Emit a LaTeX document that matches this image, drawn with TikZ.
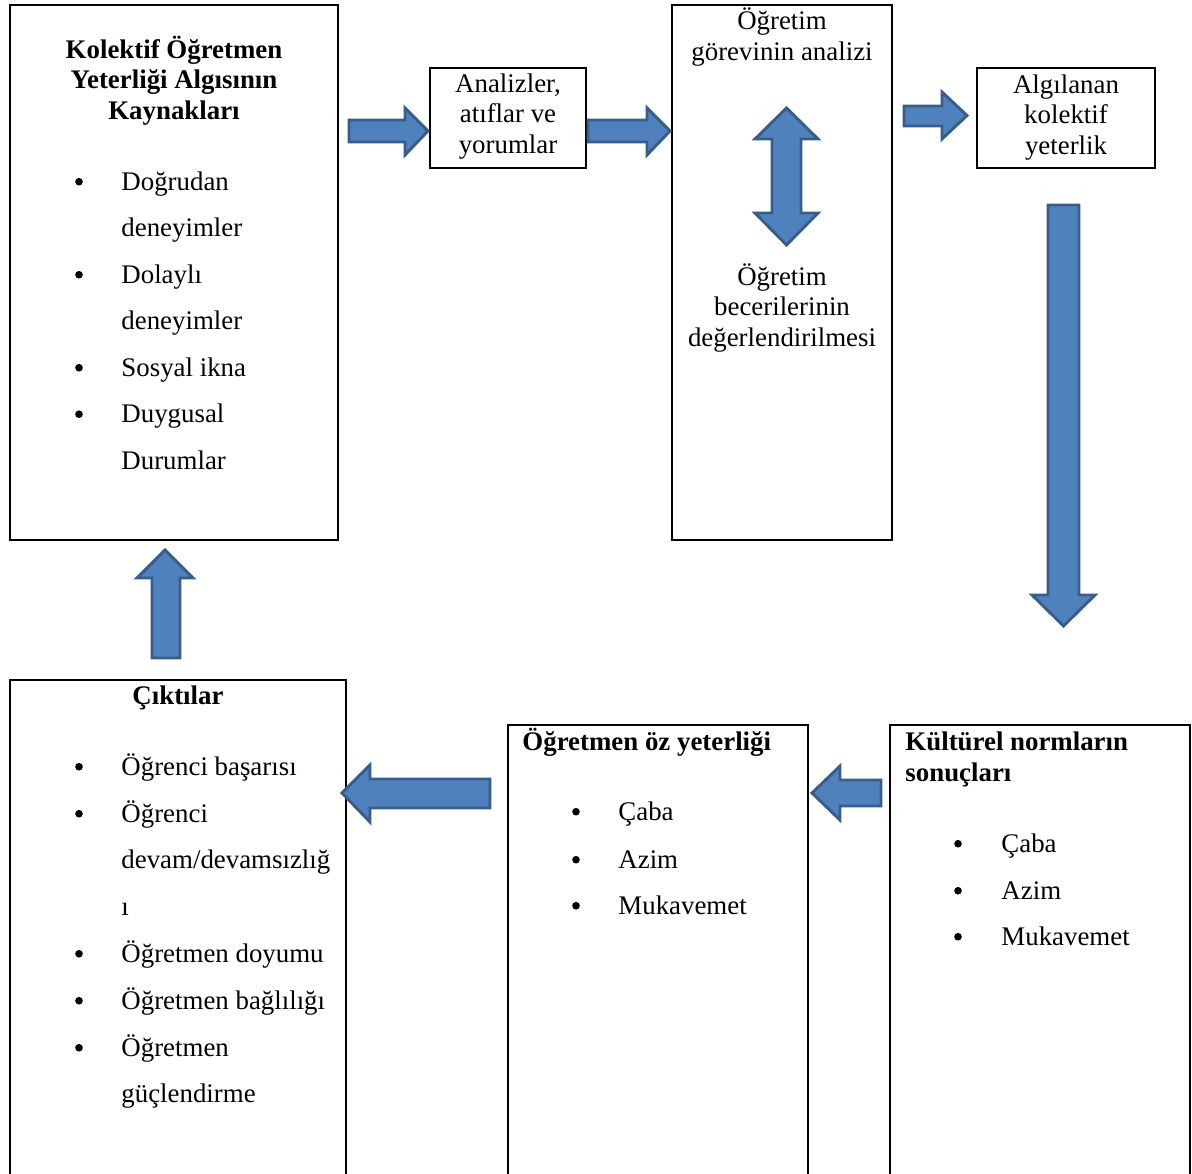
\documentclass[tikz,border=0pt]{standalone}
\usepackage{fontspec}
\setmainfont{Liberation Serif}
\usepackage{xcolor}

\definecolor{arrfill}{HTML}{4F81BD}
\definecolor{arrline}{HTML}{385D8A}

\begin{document}
\begin{tikzpicture}[x=0.0157cm,y=-0.0157cm,
box/.style={draw=black,line width=0.7pt,inner sep=0pt},
blockarr/.style={fill=arrfill,draw=arrline,line width=1.3pt,line join=miter},
txt/.style={inner sep=0pt,anchor=base,font=\fontsize{12}{14}\selectfont},
ttl/.style={inner sep=0pt,anchor=base,font=\fontsize{12}{14}\selectfont\bfseries},
itm/.style={inner sep=0pt,anchor=base west,font=\fontsize{12}{14}\selectfont},
dot/.style={circle,fill=black,inner sep=0pt,minimum size=0.12cm,yshift=0.13cm}
]
\useasboundingbox (0,0) rectangle (1192,1173);
\clip (0,0) rectangle (1192,1173);

% boxes
\node[box,minimum width=5.15cm,minimum height=8.40cm](src) at (174,272.5) {};
\node[box,minimum width=2.45cm,minimum height=1.57cm](ana) at (508,118) {};
\node[box,minimum width=3.454cm,minimum height=8.40cm](task) at (782,272.5) {};
\node[box,minimum width=2.795cm,minimum height=1.57cm](perc) at (1066,118) {};
\node[box,minimum width=5.275cm,minimum height=8.164cm](outc) at (178,940) {};
\node[box,minimum width=4.71cm,minimum height=7.4575cm](self) at (658,962.5) {};
\node[box,minimum width=4.71cm,minimum height=7.4575cm](norm) at (1040,962.5) {};

% sources
\node[ttl](srct1) at (174,58) {Kolektif Öğretmen};
\node[ttl](srct2) at (174,88.5) {Yeterliği Algısının};
\node[ttl](srct3) at (174,119) {Kaynakları};
\foreach \y/\t [count=\i] in {190/Doğrudan,236.5/deneyimler,283/Dolaylı,329.5/deneyimler,376/Sosyal ikna,422.5/Duygusal,469/Durumlar}
  \node[itm](srcl\i) at (121,\y) {\t};
\foreach \y [count=\i] in {190,283,376,422.5}
  \node[dot](srcb\i) at (79,\y) {};

% analysis
\node[txt](ana1) at (508,92) {Analizler,};
\node[txt](ana2) at (508,122.5) {atıflar ve};
\node[txt](ana3) at (508,153) {yorumlar};

\node[txt](task1) at (782,29) {Öğretim};
\node[txt](task2) at (782,60) {görevinin analizi};
\node[txt](task3) at (782,285) {Öğretim};
\node[txt](task4) at (782,315.5) {becerilerinin};
\node[txt](task5) at (782,346) {değerlendirilmesi};

\node[txt](perc1) at (1066,93) {Algılanan};
\node[txt](perc2) at (1066,123.5) {kolektif};
\node[txt](perc3) at (1066,154) {yeterlik};

% outcomes
\node[ttl](outct) at (178,704) {Çıktılar};
\foreach \y/\t [count=\i] in {775/Öğrenci başarısı,822/Öğrenci,868/{devam/devamsızlığ},915/ı,962/Öğretmen doyumu,1009/Öğretmen bağlılığı,1056/Öğretmen,1102/güçlendirme}
  \node[itm](outcl\i) at (121,\y) {\t};
\foreach \y [count=\i] in {775,822,962,1009,1056}
  \node[dot](outcb\i) at (79,\y) {};

\node[ttl,anchor=base west](selft) at (522,750) {Öğretmen öz yeterliği};
\foreach \y/\t [count=\i] in {820/Çaba,868/Azim,914/Mukavemet}{
  \node[itm](selfl\i) at (618,\y) {\t};
  \node[dot](selfb\i) at (576,\y) {};
}

\node[ttl,anchor=base west](normt1) at (905,750) {Kültürel normların};
\node[ttl,anchor=base west](normt2) at (905,781) {sonuçları};
\foreach \y/\t [count=\i] in {852/Çaba,899/Azim,945/Mukavemet}{
  \node[itm](norml\i) at (1001,\y) {\t};
  \node[dot](normb\i) at (958,\y) {};
}

% block arrows
\draw[blockarr] (349,120) -- (405,120) -- (405,108) -- (428,131) -- (405,155) -- (405,142) -- (349,142) -- cycle;
\draw[blockarr] (588,120) -- (647,120) -- (647,108) -- (670,131) -- (647,155) -- (647,142) -- (588,142) -- cycle;
\draw[blockarr] (904,106) -- (942,106) -- (942,92) -- (967,115.5) -- (942,139) -- (942,126) -- (904,126) -- cycle;
\draw[blockarr] (786.5,108) -- (818,139) -- (801,139) -- (801,213) -- (818,213) -- (786.5,245) -- (755,213) -- (772,213) -- (772,139) -- (755,139) -- cycle;
\draw[blockarr] (1048,205) -- (1079,205) -- (1079,595) -- (1095,595) -- (1063.5,626) -- (1032,595) -- (1048,595) -- cycle;
\draw[blockarr] (152,658) -- (152,578) -- (137,578) -- (165,550) -- (193,578) -- (180,578) -- (180,658) -- cycle;
\draw[blockarr] (490,779) -- (370,779) -- (370,765) -- (342,793) -- (370,822) -- (370,808) -- (490,808) -- cycle;
\draw[blockarr] (881,780) -- (840,780) -- (840,766) -- (812,793) -- (840,820) -- (840,806) -- (881,806) -- cycle;

\end{tikzpicture}
\end{document}
